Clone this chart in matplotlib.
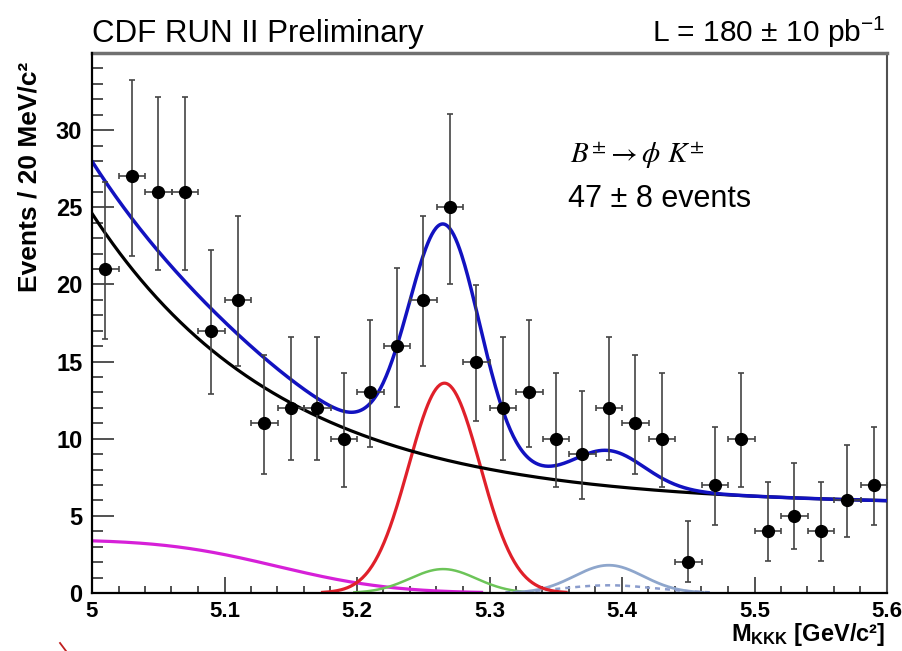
import numpy as np
import matplotlib
matplotlib.use("Agg")
import matplotlib.pyplot as plt
from matplotlib.lines import Line2D
from math import erf

# ---------------- data ----------------
bin_centers = [5.01, 5.03, 5.05, 5.07, 5.09, 5.11, 5.13, 5.15, 5.17, 5.19,
               5.21, 5.23, 5.25, 5.27, 5.29, 5.31, 5.33, 5.35, 5.37, 5.39,
               5.41, 5.43, 5.45, 5.47, 5.49, 5.51, 5.53, 5.55, 5.57, 5.59]
counts = [21, 27, 26, 26, 17, 19, 11, 12, 12, 10,
          13, 16, 19, 25, 15, 12, 13, 10, 9, 12,
          11, 10, 2, 7, 10, 4, 5, 4, 6, 7]
bin_half_width = 0.01

# fit components (parameters)
bkg_const, bkg_amp, bkg_slope = 5.7, 18.9, 0.143          # combinatorial background
partial_amp, partial_mu, partial_sigma = 3.45, 5.14, 0.068  # partially reconstructed (magenta)
sig_amp, sig_mu, sig_sigma = 13.6, 5.266, 0.027            # B -> phi K signal (red)
refl_amp, refl_mu, refl_sigma = 1.55, 5.265, 0.025          # green component
high_amp, high_mu, high_sigma = 1.8, 5.39, 0.026            # steel-blue component
dot_amp, dot_mu, dot_sigma = 0.5, 5.39, 0.035               # dotted component

x_ticks = [5.0, 5.1, 5.2, 5.3, 5.4, 5.5, 5.6]
x_tick_labels = ["5", "5.1", "5.2", "5.3", "5.4", "5.5", "5.6"]
y_ticks = [0, 5, 10, 15, 20, 25, 30]
y_tick_labels = ["0", "5", "10", "15", "20", "25", "30"]

# ---------------- style ----------------
plt.rcParams["font.family"] = ["Liberation Sans", "DejaVu Sans"]
plt.rcParams["mathtext.fontset"] = "custom"
plt.rcParams["mathtext.rm"] = "Liberation Sans"
plt.rcParams["mathtext.it"] = "Liberation Sans:italic"
plt.rcParams["mathtext.bf"] = "Liberation Sans:bold"

W, H = 903, 651
fig = plt.figure(figsize=(W / 100, H / 100), dpi=100)
ax = fig.add_axes([92 / W, 1 - 593 / H, (887 - 92) / W, (593 - 53) / H])

xs = np.linspace(5.0, 5.6, 801)
verf = np.vectorize(erf)

def gauss(x, a, m, s):
    return a * np.exp(-0.5 * ((x - m) / s) ** 2)

def visible(y, floor=0.04):
    return np.where(y > floor, y, np.nan)

bkg = bkg_const + bkg_amp * np.exp(-(xs - 5.0) / bkg_slope)
partial = partial_amp * 0.5 * (1 - verf((xs - partial_mu) / (np.sqrt(2) * partial_sigma)))
sig = gauss(xs, sig_amp, sig_mu, sig_sigma)
refl = gauss(xs, refl_amp, refl_mu, refl_sigma)
high = gauss(xs, high_amp, high_mu, high_sigma)
dot = gauss(xs, dot_amp, dot_mu, dot_sigma)
total = bkg + partial + sig + refl + high + dot

ax.plot(xs, visible(partial), color="#d620d8", lw=2.3, zorder=3)
ax.plot(xs, visible(refl), color="#6cc458", lw=1.8, zorder=3)
ax.plot(xs, visible(high), color="#8ea6cc", lw=2.0, zorder=3)
ax.plot(xs, visible(dot), color="#8a9ccc", lw=1.8, ls=(0, (2, 2)), zorder=3)
ax.plot(xs, visible(sig), color="#e0202a", lw=2.3, zorder=3)
ax.plot(xs, bkg, color="black", lw=2.3, zorder=4)
ax.plot(xs, total, color="#1212c0", lw=2.5, zorder=5)

# Poisson (Gehrels) asymmetric errors
n = np.array(counts, dtype=float)
err_hi = np.sqrt(n + 0.75) + 1.0
err_lo = n - n * (1 - 1 / (9 * n) - 1 / (3 * np.sqrt(n))) ** 3
ax.errorbar(bin_centers, counts, yerr=[err_lo, err_hi], xerr=bin_half_width,
            fmt="o", color="black", ms=8.5, ecolor="#444444", elinewidth=1.2,
            capsize=2.5, capthick=1.2, zorder=6)

ax.set_xlim(5.0, 5.6)
ax.set_ylim(0, 35)
ax.set_xticks(x_ticks)
ax.set_xticklabels(x_tick_labels)
ax.set_yticks(y_ticks)
ax.set_yticklabels(y_tick_labels)
ax.set_xticks(np.arange(5.0, 5.6001, 0.02), minor=True)
ax.set_yticks(np.arange(0, 35.01, 1), minor=True)

ax.tick_params(which="both", direction="in", top=False, right=False, width=1.1, color="#222222")
ax.xaxis.set_tick_params(which="major", length=11.5, pad=5.5, labelsize=16)
ax.xaxis.set_tick_params(which="minor", length=5)
ax.yaxis.set_tick_params(which="major", length=16, pad=7, labelsize=17)
ax.yaxis.set_tick_params(which="minor", length=8)
for lab in ax.get_xticklabels() + ax.get_yticklabels():
    lab.set_fontweight("bold")

for side in ("left", "bottom"):
    ax.spines[side].set_linewidth(1.6)
    ax.spines[side].set_zorder(8)
ax.spines["top"].set_color("#707070")
ax.spines["top"].set_linewidth(2.5)
ax.spines["right"].set_color("#505050")
ax.spines["right"].set_linewidth(1.5)

ax.set_ylabel("Events / 20 MeV/c²", fontsize=19, fontweight="bold", loc="top")
ax.yaxis.set_label_coords(-0.063, 0.983)

fig.text(885 / W, 1 - 641 / H, r"M$_{\mathbf{KKK}}$ [GeV/c²]", fontsize=17,
         fontweight="bold", ha="right", va="baseline")
fig.text(92 / W, 1 - 42 / H, "CDF RUN II Preliminary", fontsize=22.5, ha="left", va="baseline")
fig.text(885 / W, 1 - 42 / H, "L = 180 ± 10 pb$^{-1}$", fontsize=21.5, ha="right", va="baseline")

ax.text(570 / W, 1 - 163 / H, r"$B^{\pm} \rightarrow \phi\ K^{\pm}$", transform=fig.transFigure,
        fontsize=21, math_fontfamily="stix", ha="left", va="baseline")
ax.text(568 / W, 1 - 207 / H, "47 ± 8 events", transform=fig.transFigure,
        fontsize=22, ha="left", va="baseline")

fig.add_artist(Line2D([60 / W, 66 / W], [1 - 643 / H, 1 - 651 / H], color="#c02020", lw=1.3))

fig.savefig("out.png", dpi=100)
